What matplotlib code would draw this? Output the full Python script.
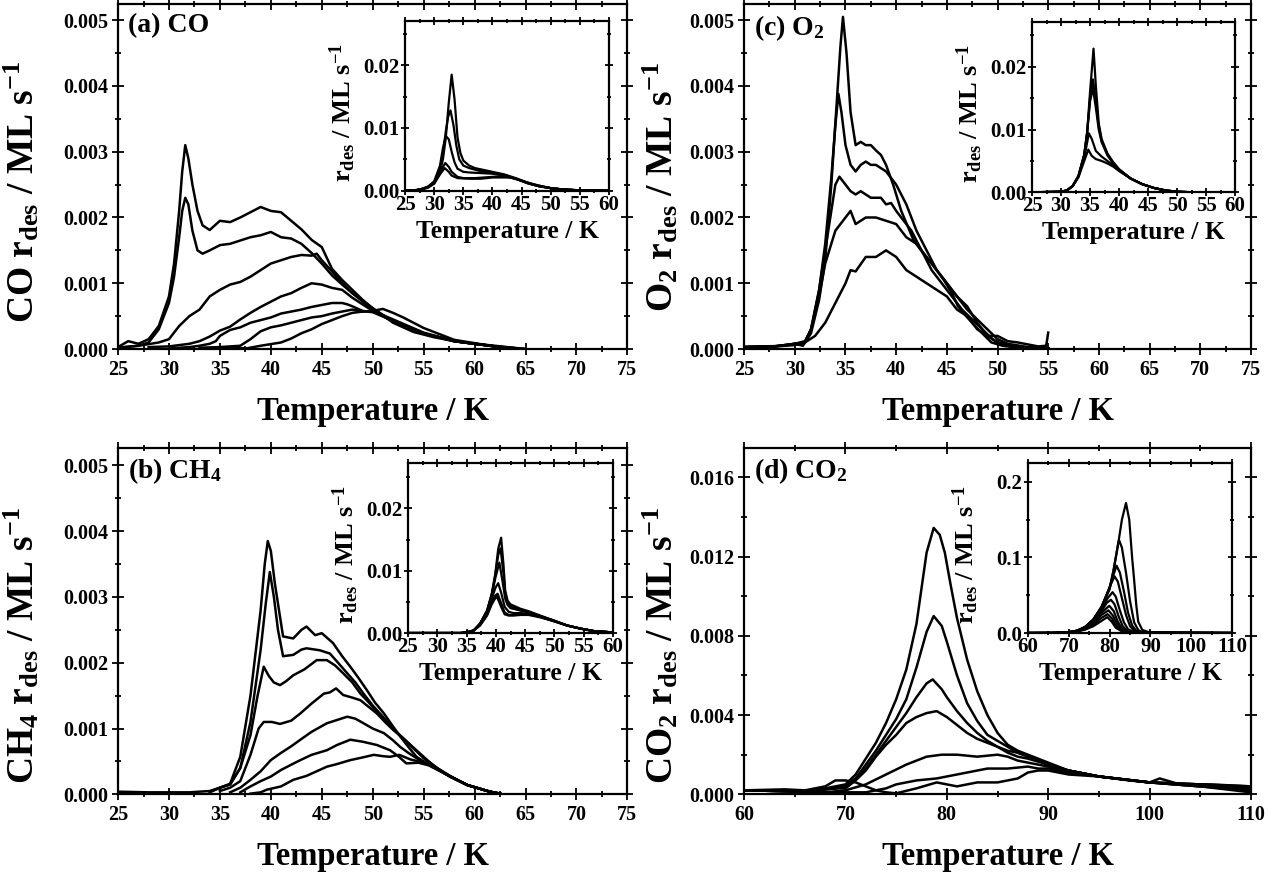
import matplotlib
matplotlib.use("Agg")
import matplotlib.pyplot as plt
from matplotlib.ticker import MultipleLocator, FormatStrFormatter

plt.rcParams['font.family'] = ['Liberation Serif', 'DejaVu Serif']
plt.rcParams['font.weight'] = 'bold'
plt.rcParams['mathtext.default'] = 'regular'
plt.rcParams['axes.linewidth'] = 1.6

# ---------------- (a) CO, main panel ----------------
co_temp = [
    [25, 26, 27, 28, 29, 30, 30.5, 31, 31.3, 31.6, 31.9, 32.3, 32.8, 33.3, 34, 35, 36, 37, 38, 39, 40, 41, 42, 43, 44, 45, 46, 47, 48, 49, 50, 52, 54, 56, 58, 60, 62, 65],
    [25, 27, 28, 29, 30, 30.5, 31, 31.3, 31.6, 31.9, 32.3, 32.8, 33.3, 34, 35, 36, 37, 38, 39, 40, 41, 42, 43, 44, 45, 46, 47, 48, 50, 52, 55, 58, 62, 65],
    [25, 27, 29, 30, 31, 32, 33, 34, 35, 36, 37, 38, 39, 40, 41, 42, 43, 44, 44.5, 45, 46, 47, 48, 50, 52, 55, 58, 62, 65],
    [28, 30, 32, 33, 34, 35, 36, 37, 38, 39, 40, 41, 42, 43, 44, 45, 46, 47, 48, 49, 50, 52, 55, 58, 62],
    [30, 32, 33, 34, 34.6, 35, 36, 37, 38, 39, 40, 41, 42, 43, 44, 45, 46, 47, 47.5, 48, 49, 50, 52, 55, 58, 62],
    [33, 35, 37, 38, 39, 40, 41, 42, 43, 44, 45, 46, 47, 48, 49, 50, 52, 55, 58, 62],
    [34, 36, 37.6, 39, 41, 42, 43, 44, 45, 46, 47, 48, 49, 50, 51, 52, 53, 55, 58, 62],
]
co_rate = [
    [0.00003, 0.00012, 0.00008, 0.00015, 0.00035, 0.0008, 0.0013, 0.0021, 0.0027, 0.0031, 0.0029, 0.0025, 0.0021, 0.00188, 0.00181, 0.00195, 0.00193, 0.002, 0.00208, 0.00216, 0.0021, 0.00208, 0.00195, 0.00182, 0.00166, 0.00155, 0.00122, 0.00105, 0.0009, 0.00075, 0.00062, 0.0004, 0.00026, 0.00018, 0.00012, 0.00008, 0.00005, 0.0],
    [0.00002, 0.00005, 0.0001, 0.0003, 0.0007, 0.0011, 0.0017, 0.0021, 0.0023, 0.0022, 0.0018, 0.0015, 0.00145, 0.0015, 0.00158, 0.0016, 0.00165, 0.0017, 0.00173, 0.00178, 0.0017, 0.00168, 0.0016, 0.00146, 0.0013, 0.00112, 0.00098, 0.00085, 0.00062, 0.00042, 0.00024, 0.00012, 0.00004, 0.0],
    [0.00002, 0.00005, 0.0001, 0.00015, 0.00035, 0.0005, 0.0006, 0.0008, 0.0009, 0.00098, 0.00102, 0.0011, 0.0012, 0.0013, 0.00135, 0.0014, 0.00143, 0.00142, 0.00145, 0.00135, 0.00118, 0.001, 0.00085, 0.0006, 0.00042, 0.00024, 0.00012, 0.00004, 0.0],
    [0.00003, 0.00004, 0.00008, 0.00012, 0.00019, 0.00028, 0.00034, 0.00045, 0.00055, 0.00064, 0.00072, 0.0008, 0.00085, 0.00093, 0.001, 0.00098, 0.00093, 0.0009, 0.00078, 0.00068, 0.00058, 0.00042, 0.00024, 0.00012, 0.00004],
    [0.00001, 0.00003, 0.00005, 0.00008, 0.00012, 0.0002, 0.00029, 0.00033, 0.0004, 0.00044, 0.00048, 0.00054, 0.00057, 0.0006, 0.00064, 0.00067, 0.0007, 0.0007, 0.00068, 0.00065, 0.00058, 0.00056, 0.00043, 0.00024, 0.00012, 0.00004],
    [0.00002, 0.00003, 0.00005, 0.00015, 0.00027, 0.00033, 0.00036, 0.0004, 0.00044, 0.00048, 0.0005, 0.00054, 0.00057, 0.0006, 0.00057, 0.00058, 0.00045, 0.00025, 0.00012, 0.00004],
    [0.00001, 0.00002, 0.00001, 0.00005, 0.0001, 0.00016, 0.00024, 0.0003, 0.00038, 0.00044, 0.0005, 0.00055, 0.00057, 0.00058, 0.00061, 0.00055, 0.00048, 0.00032, 0.00014, 0.00004],
]

# (a) inset
co_in_temp = [
    [25, 27, 28, 29, 30, 31, 31.5, 32, 32.5, 33, 33.5, 34, 34.5, 35, 36, 37, 38, 40, 42, 44, 46, 48, 50, 52, 55, 60],
    [25, 27, 28, 29, 30, 31, 31.5, 32, 32.4, 32.8, 33.3, 33.8, 34.3, 35, 36, 38, 40, 42, 44, 46, 48, 50, 52, 55, 60],
    [25, 27, 28, 29, 30, 31, 31.5, 32, 32.5, 33, 33.5, 34, 35, 36, 38, 40, 42, 44, 46, 48, 50, 52, 55, 60],
    [25, 27, 28, 29, 30, 31, 31.9, 32.5, 33, 34, 35, 37, 40, 42, 44, 46, 48, 50, 52, 55, 60],
    [25, 27, 28, 29, 30, 31, 31.8, 32.5, 33, 34, 36, 38, 40, 43, 45, 47, 50, 52, 55, 60],
]
co_in_rate = [
    [0, 0.0001, 0.0003, 0.0006, 0.0012, 0.003, 0.005, 0.0085, 0.014, 0.0185, 0.0145, 0.0085, 0.006, 0.0048, 0.004, 0.0036, 0.0034, 0.003, 0.0026, 0.002, 0.0013, 0.0008, 0.0004, 0.0002, 0.00005, 0.0],
    [0, 0.0001, 0.0003, 0.0006, 0.0013, 0.0035, 0.006, 0.0095, 0.0118, 0.0128, 0.0105, 0.0072, 0.005, 0.004, 0.0036, 0.0031, 0.0028, 0.0025, 0.0019, 0.0012, 0.0007, 0.0004, 0.0002, 0.00005, 0],
    [0, 0.0001, 0.0003, 0.0007, 0.0015, 0.004, 0.0068, 0.0087, 0.0082, 0.0062, 0.0045, 0.0035, 0.003, 0.0029, 0.0028, 0.0027, 0.0024, 0.0019, 0.0012, 0.0007, 0.0004, 0.0002, 0.00005, 0],
    [0, 0.0001, 0.0003, 0.0006, 0.0013, 0.003, 0.0044, 0.0038, 0.003, 0.0022, 0.002, 0.002, 0.0022, 0.0023, 0.0019, 0.0012, 0.0007, 0.0004, 0.0002, 0.00005, 0],
    [0, 0.0001, 0.0002, 0.0005, 0.0011, 0.0026, 0.0036, 0.003, 0.0024, 0.002, 0.0019, 0.0019, 0.0021, 0.0021, 0.0016, 0.001, 0.0004, 0.0002, 0.00005, 0],
]

# ---------------- (c) O2, main panel ----------------
o2_temp = [
    [25, 27, 29, 30, 30.8, 31.6, 32.4, 33, 33.6, 34.2, 34.5, 34.75, 35.1, 35.5, 36, 36.5, 37, 37.5, 38, 38.5, 39, 39.7, 40.5, 41.7, 42.7, 43.7, 44.7, 45.5, 46.1, 46.9, 48.1, 49.4, 50.5, 52, 55],
    [25, 28, 30, 31, 31.6, 32.4, 33, 33.6, 34, 34.3, 34.6, 35, 35.5, 36, 36.5, 37, 37.5, 38, 39, 40, 41, 42, 43, 44, 45, 46, 47, 48, 49, 50, 52, 55],
    [25, 28, 30, 31, 31.6, 32.4, 33, 33.6, 34, 34.4, 35, 35.5, 36, 36.5, 37, 37.5, 38, 38.5, 39, 39.5, 40, 40.5, 41.5, 42.5, 43.5, 44.5, 45.5, 46.5, 47.5, 48.5, 49.5, 50.5, 52, 55],
    [25, 28, 30, 31, 31.6, 32.4, 33, 34, 35, 35.5, 36, 37, 38, 39, 40, 41, 42, 43, 44, 45, 46, 47, 48, 49, 50, 51, 53, 55],
    [25, 28, 30, 31, 32, 33, 34, 35, 35.5, 36, 37, 38, 39, 40, 41, 42, 43, 44, 45, 46, 47, 48, 49, 50, 51, 52, 54, 54.8, 55],
]
o2_rate = [
    [0.00003, 0.00004, 0.00005, 0.00008, 0.00005, 0.00024, 0.00075, 0.00136, 0.0025, 0.0039, 0.0046, 0.00505, 0.0045, 0.0036, 0.0031, 0.00315, 0.0031, 0.0031, 0.00302, 0.00295, 0.0028, 0.0025, 0.0021, 0.00166, 0.00145, 0.00126, 0.00105, 0.00085, 0.00065, 0.0005, 0.0003, 0.0001, 0.00005, 0.00002, 0.00001],
    [0.00003, 0.00004, 0.00008, 0.00012, 0.0003, 0.0009, 0.0016, 0.0026, 0.0034, 0.00388, 0.0036, 0.0031, 0.0028, 0.0027, 0.0028, 0.00285, 0.0028, 0.0028, 0.0027, 0.0025, 0.0022, 0.0018, 0.0015, 0.0012, 0.001, 0.0008, 0.00065, 0.0004, 0.0002, 0.0001, 0.00003, 0.00001],
    [0.00003, 0.00004, 0.00008, 0.0001, 0.0003, 0.0009, 0.0015, 0.0021, 0.0025, 0.00262, 0.0025, 0.0024, 0.00235, 0.0024, 0.00235, 0.0023, 0.0023, 0.0023, 0.0022, 0.00222, 0.0021, 0.002, 0.0018, 0.0015, 0.0012, 0.001, 0.0008, 0.0006, 0.00045, 0.0003, 0.00015, 0.00007, 0.00003, 0.00001],
    [0.00003, 0.00004, 0.00008, 0.0001, 0.0003, 0.0008, 0.0013, 0.0018, 0.002, 0.0021, 0.0019, 0.002, 0.002, 0.00195, 0.0019, 0.0017, 0.0016, 0.0014, 0.0012, 0.001, 0.0008, 0.0006, 0.00045, 0.0003, 0.00015, 0.00008, 0.00003, 0.00001],
    [0.00003, 0.00004, 0.00006, 0.0001, 0.0002, 0.0004, 0.0007, 0.001, 0.0012, 0.00118, 0.0014, 0.0014, 0.0015, 0.0014, 0.0012, 0.0011, 0.001, 0.0009, 0.0008, 0.0006, 0.0005, 0.0003, 0.0002, 0.0002, 0.00012, 0.0001, 0.00004, 0.00005, 0.00025],
]

# (c) inset
o2_in_temp = [
    [25, 30, 31, 32, 33, 34, 34.5, 35, 35.6, 36, 36.5, 37, 38, 39, 40, 42, 44, 46, 48, 50, 52, 55, 60],
    [25, 30, 31, 32, 33, 34, 34.5, 35, 35.5, 36, 36.5, 37, 38, 39, 40, 42, 44, 46, 48, 50, 52, 55, 60],
    [25, 30, 31, 32, 33, 34, 34.5, 35, 35.5, 36, 36.5, 37, 38, 39, 40, 42, 44, 46, 48, 50, 52, 55, 60],
    [25, 30, 31, 32, 33, 34, 34.8, 35.3, 36, 37, 38, 39, 40, 42, 44, 46, 48, 50, 52, 55, 60],
    [25, 30, 31, 32, 33, 34, 34.7, 35.3, 36, 37, 38, 39, 40, 42, 44, 46, 48, 50, 52, 55, 60],
]
o2_in_rate = [
    [0, 0.0001, 0.0003, 0.001, 0.0026, 0.006, 0.0095, 0.016, 0.0229, 0.017, 0.011, 0.0085, 0.0062, 0.0048, 0.0037, 0.0022, 0.0013, 0.0007, 0.0003, 0.0001, 0.00003, 0, 0],
    [0, 0.0001, 0.0003, 0.001, 0.0026, 0.006, 0.0095, 0.015, 0.018, 0.0145, 0.0105, 0.0082, 0.006, 0.0047, 0.0036, 0.0022, 0.0013, 0.0007, 0.0003, 0.0001, 0.00003, 0, 0],
    [0, 0.0001, 0.0003, 0.001, 0.0026, 0.006, 0.0095, 0.0145, 0.0166, 0.0135, 0.01, 0.008, 0.0059, 0.0046, 0.0036, 0.0022, 0.0013, 0.0007, 0.0003, 0.0001, 0.00003, 0, 0],
    [0, 0.0001, 0.0003, 0.001, 0.0025, 0.0055, 0.0094, 0.0085, 0.0066, 0.0057, 0.005, 0.0043, 0.0035, 0.0022, 0.0013, 0.0007, 0.0003, 0.0001, 0.00003, 0, 0],
    [0, 0.0001, 0.0003, 0.001, 0.0024, 0.005, 0.0068, 0.0058, 0.0053, 0.005, 0.0046, 0.0041, 0.0034, 0.0022, 0.0013, 0.0007, 0.0003, 0.0001, 0.00003, 0, 0],
]

# ---------------- (b) CH4, main panel ----------------
ch4_temp = [
    [25, 28, 30, 32, 34, 35, 36, 37, 38, 39, 39.4, 39.7, 40.0, 40.4, 41.2, 42.2, 43, 43.5, 44.35, 45, 46.1, 47, 47.8, 48.6, 49.4, 50.2, 51.1, 52, 52.7, 53.5, 54.3, 55.2, 56, 57.6, 59.3, 61.5, 62.5],
    [34, 35, 36, 37, 38, 39, 39.5, 39.9, 40.3, 40.7, 41.2, 42.2, 43, 43.5, 44.8, 45.8, 46.6, 47.5, 48.3, 49.1, 50, 51, 52, 53, 54, 55, 56, 57.6, 59.3, 61.5, 62.5],
    [34, 35, 36, 37, 38, 38.7, 39.3, 39.8, 40.3, 40.9, 41.5, 42.2, 43.3, 44.5, 45.5, 46.3, 47.1, 48, 48.8, 49.6, 50.5, 51.5, 52.5, 53.5, 54.5, 55.5, 56.5, 57.6, 59.3, 61.5, 62.5],
    [35, 36, 37, 38, 38.8, 39.3, 40.1, 40.9, 42, 42.9, 44, 45.2, 45.8, 46.4, 47.1, 48, 48.8, 49.6, 50.4, 51.2, 52, 53, 54, 55, 56, 57.6, 59.3, 61.5, 62.5],
    [36, 37, 38, 39, 40, 41, 42, 42.9, 44, 45.5, 46.5, 47.5, 48.3, 49.1, 50, 51.1, 52, 52.7, 53.5, 54.5, 55.5, 56.5, 57.6, 59.3, 61.5, 62.5],
    [37, 38, 39, 40, 41, 42, 42.9, 44, 45.5, 46.5, 47.8, 49, 50.4, 51.7, 52.5, 53.3, 54.5, 55.5, 56.5, 57.6, 59.3, 61.5, 62.5],
    [38, 39, 39.6, 41, 42.2, 43.5, 44.5, 45.5, 46.5, 47.8, 49, 50.1, 51, 51.7, 52.6, 53.7, 54.5, 55.5, 56.5, 57.6, 59.3, 61.5, 62.5],
]
ch4_rate = [
    [0.00004, 0.00003, 0.00003, 0.00003, 0.00005, 0.0001, 0.00016, 0.00057, 0.0015, 0.0028, 0.0035, 0.00385, 0.0037, 0.0032, 0.0024, 0.00237, 0.0025, 0.00255, 0.00242, 0.00245, 0.0023, 0.0021, 0.00194, 0.00177, 0.00159, 0.0014, 0.00123, 0.00103, 0.00088, 0.00072, 0.00057, 0.00048, 0.00042, 0.00027, 0.00014, 0.00004, 0.00001],
    [0.00004, 0.0001, 0.00015, 0.0004, 0.0011, 0.0022, 0.0029, 0.00338, 0.003, 0.0025, 0.0021, 0.00212, 0.0022, 0.00222, 0.00219, 0.00214, 0.002, 0.00184, 0.0017, 0.00153, 0.00135, 0.00118, 0.001, 0.00085, 0.0007, 0.00055, 0.00042, 0.00027, 0.00014, 0.00004, 0.00001],
    [0.00003, 0.0001, 0.00015, 0.0004, 0.0009, 0.0015, 0.00194, 0.0018, 0.0017, 0.00166, 0.00172, 0.00181, 0.0019, 0.00204, 0.00204, 0.00196, 0.00184, 0.0017, 0.00153, 0.0014, 0.00124, 0.00108, 0.00092, 0.00078, 0.00064, 0.0005, 0.00038, 0.00027, 0.00014, 0.00004, 0.00001],
    [0.00005, 0.0001, 0.0002, 0.0006, 0.001, 0.0011, 0.0011, 0.00107, 0.00112, 0.00123, 0.00138, 0.00153, 0.00155, 0.00161, 0.00151, 0.00147, 0.00143, 0.00133, 0.00123, 0.0011, 0.00098, 0.00085, 0.0007, 0.00056, 0.00043, 0.00028, 0.00014, 0.00004, 0.00001],
    [0.00003, 0.0001, 0.00022, 0.00035, 0.00052, 0.00063, 0.00073, 0.00083, 0.00095, 0.00108, 0.00113, 0.00118, 0.00115, 0.00108, 0.001, 0.00093, 0.00082, 0.00072, 0.00063, 0.00053, 0.00045, 0.00037, 0.00027, 0.00014, 0.00004, 0.00001],
    [0.00003, 0.00012, 0.0002, 0.00027, 0.00037, 0.00045, 0.00052, 0.0006, 0.00067, 0.00075, 0.00083, 0.0008, 0.00075, 0.00067, 0.00058, 0.00047, 0.00048, 0.00044, 0.00036, 0.00027, 0.00014, 0.00004, 0.00001],
    [0.00001, 0.00003, 0.00007, 0.00012, 0.00022, 0.00028, 0.00035, 0.00042, 0.00046, 0.00052, 0.00056, 0.0006, 0.00058, 0.00057, 0.0006, 0.00053, 0.0005, 0.00045, 0.00037, 0.00027, 0.00014, 0.00004, 0.00001],
]

# (b) inset
ch4_in_temp = [
    [25, 34, 35, 36.2, 37.3, 38.5, 39.3, 39.9, 40.4, 40.9, 41.3, 41.6, 42, 42.5, 44.2, 45.6, 47.6, 49.9, 52.2, 54.5, 56.8, 60],
    [25, 34, 35, 36.2, 37.3, 38.5, 39.3, 39.9, 40.4, 40.8, 41.3, 41.6, 42, 42.5, 44.2, 45.6, 47.6, 49.9, 52.2, 54.5, 56.8, 60],
    [25, 34, 35, 36.2, 37.3, 38.5, 39.3, 39.9, 40.6, 41.1, 41.6, 42, 42.5, 44.2, 45.6, 47.6, 49.9, 52.2, 54.5, 56.8, 60],
    [25, 34, 35, 36.2, 37.3, 38.5, 39.3, 39.9, 40.4, 40.9, 41.5, 42.2, 43, 44.2, 45.6, 47.6, 49.9, 52.2, 54.5, 56.8, 60],
    [25, 34, 35, 36.2, 37.3, 38.5, 39.3, 39.9, 40.3, 40.9, 41.5, 42.2, 43, 44.2, 45.6, 47.6, 49.9, 52.2, 54.5, 56.8, 60],
    [25, 34, 35, 36.2, 37.3, 38.5, 39.3, 39.9, 40.2, 40.9, 41.5, 42.2, 43, 44.2, 45.6, 47.6, 49.9, 52.2, 54.5, 56.8, 60],
]
ch4_in_rate = [
    [0, 0, 0.0001, 0.0004, 0.0015, 0.0036, 0.0063, 0.0095, 0.0135, 0.0153, 0.011, 0.0068, 0.0052, 0.0046, 0.0039, 0.0035, 0.0028, 0.002, 0.0012, 0.0007, 0.0003, 0.0001],
    [0, 0, 0.0001, 0.0004, 0.0015, 0.0036, 0.0062, 0.0093, 0.0125, 0.0136, 0.0095, 0.0062, 0.0049, 0.0043, 0.0037, 0.0034, 0.0027, 0.002, 0.0012, 0.0007, 0.0003, 0.0001],
    [0, 0, 0.0001, 0.0004, 0.0015, 0.0035, 0.006, 0.0088, 0.0113, 0.0085, 0.0055, 0.0045, 0.004, 0.0036, 0.0033, 0.0027, 0.002, 0.0012, 0.0007, 0.0003, 0.0001],
    [0, 0, 0.0001, 0.0004, 0.0014, 0.0033, 0.0055, 0.0072, 0.008, 0.0065, 0.0042, 0.0034, 0.0032, 0.0032, 0.0031, 0.0026, 0.0019, 0.0012, 0.0007, 0.0003, 0.0001],
    [0, 0, 0.0001, 0.0004, 0.0013, 0.003, 0.005, 0.006, 0.0063, 0.0048, 0.0033, 0.0029, 0.0029, 0.003, 0.003, 0.0026, 0.0019, 0.0012, 0.0007, 0.0003, 0.0001],
    [0, 0, 0.0001, 0.0004, 0.0012, 0.0028, 0.0046, 0.0056, 0.0058, 0.0042, 0.003, 0.0028, 0.0028, 0.0029, 0.0029, 0.0025, 0.0019, 0.0012, 0.0007, 0.0003, 0.0001],
]

# ---------------- (d) CO2, main panel ----------------
co2_temp = [
    [60, 63, 65, 67, 68, 69, 70, 71, 72, 73, 74, 75, 76, 77, 77.5, 78, 78.7, 79.3, 79.8, 80.4, 81, 82, 83, 84, 85, 86, 87, 88, 90, 92, 95, 98, 100, 101, 103, 106, 110],
    [60, 65, 67, 69, 70, 71, 72, 73, 74, 75, 76, 77, 78, 78.7, 79.5, 80, 81, 82, 83, 84, 85, 86, 87, 88, 90, 92, 95, 100, 105, 110],
    [60, 65, 67, 69, 70, 71, 72, 73, 74, 75, 76, 77, 78, 78.6, 79.5, 80, 81, 82, 83, 84, 85, 86, 87, 88, 90, 92, 95, 100, 105, 110],
    [60, 65, 67, 69, 70, 71, 72, 73, 74, 75, 76, 77, 78, 79, 80, 81, 82, 83, 84, 85, 86, 87, 88, 90, 92, 95, 100, 105, 110],
    [60, 65, 68, 70, 72, 74, 76, 78, 79.5, 81, 83, 85, 86, 87, 88, 89, 90, 92, 95, 100, 105, 110],
    [60, 65, 68, 70, 72, 74, 75, 77, 79, 80, 82, 84, 86, 88, 89, 90, 92, 95, 100, 105, 110],
    [60, 64, 66, 68, 69, 70, 71, 72, 73, 74, 75, 77, 79, 80, 81, 83, 85, 87, 88, 89, 90, 92, 95, 100, 105, 110],
]
co2_rate = [
    [0.0002, 0.0002, 0.00015, 0.0002, 0.0003, 0.0004, 0.0005, 0.001, 0.0018, 0.0026, 0.0036, 0.0048, 0.0063, 0.0086, 0.0104, 0.0122, 0.01345, 0.0131, 0.0122, 0.0105, 0.0089, 0.0068, 0.0052, 0.004, 0.0031, 0.0025, 0.0022, 0.002, 0.0016, 0.0012, 0.0009, 0.0007, 0.0006, 0.0008, 0.0005, 0.0005, 0.0004],
    [0.0002, 0.00015, 0.0002, 0.0003, 0.0004, 0.0008, 0.0015, 0.0022, 0.003, 0.0038, 0.0048, 0.0064, 0.0082, 0.009, 0.0085, 0.0077, 0.006, 0.0046, 0.0037, 0.003, 0.0027, 0.0024, 0.0021, 0.0019, 0.0015, 0.0012, 0.0009, 0.0006, 0.0005, 0.0004],
    [0.0002, 0.00015, 0.0002, 0.0003, 0.0004, 0.0008, 0.0013, 0.002, 0.0027, 0.0034, 0.0041, 0.0049, 0.0056, 0.0058, 0.0053, 0.0049, 0.0042, 0.0036, 0.0031, 0.0027, 0.0024, 0.0021, 0.0019, 0.0018, 0.0015, 0.0012, 0.0009, 0.0006, 0.0005, 0.0003],
    [0.0002, 0.00015, 0.0002, 0.0003, 0.0003, 0.0007, 0.0012, 0.0019, 0.0025, 0.003, 0.0036, 0.0039, 0.0041, 0.0042, 0.0039, 0.0035, 0.0031, 0.0028, 0.0026, 0.0024, 0.0022, 0.0021, 0.0019, 0.0015, 0.0012, 0.0009, 0.0006, 0.0004, 0.0003],
    [0.0002, 0.00015, 0.0001, 0.0002, 0.0005, 0.001, 0.0015, 0.0019, 0.002, 0.002, 0.0019, 0.002, 0.0019, 0.0017, 0.0016, 0.0015, 0.0014, 0.0012, 0.0009, 0.0006, 0.0005, 0.0002],
    [0.0002, 0.00015, 0.0001, 0.0001, 0.0001, 0.0003, 0.0005, 0.0007, 0.0008, 0.0009, 0.0011, 0.0013, 0.0013, 0.0014, 0.0013, 0.0013, 0.0011, 0.0009, 0.0006, 0.0004, 0.0001],
    [0.0002, 0.00025, 0.0002, 0.0004, 0.0007, 0.0007, 0.0006, 0.0004, 0.0002, 0.0001, 0.00005, 0.0003, 0.0006, 0.0005, 0.0004, 0.0006, 0.0006, 0.0008, 0.0011, 0.0012, 0.0012, 0.001, 0.0009, 0.0006, 0.0004, 0.0002],
]

# (d) inset
co2_in_temp = [
    [60, 66, 68, 70, 72, 74, 76, 78, 80, 81, 82, 83, 84, 84.8, 85.5, 86, 86.5, 87, 88, 90, 95, 110],
    [60, 66, 68, 70, 72, 74, 76, 78, 80, 81, 82, 82.3, 83, 84, 85, 86, 87, 88, 90, 110],
    [60, 66, 68, 70, 72, 74, 76, 78, 80, 81, 81.7, 82.5, 83.5, 84.5, 85.5, 86.5, 88, 110],
    [60, 66, 68, 70, 72, 74, 76, 78, 80, 81.2, 82, 83, 84, 85, 86, 88, 110],
    [60, 66, 68, 70, 72, 74, 76, 78, 79.5, 80.7, 81.5, 82.5, 83.5, 84.5, 86, 110],
    [60, 66, 68, 70, 72, 74, 76, 78, 79.3, 80.3, 81.2, 82.2, 83.2, 84.5, 86, 110],
    [60, 66, 68, 70, 72, 74, 76, 78, 79.9, 81, 82, 83, 84.5, 86, 110],
    [60, 66, 68, 70, 72, 74, 76, 78, 79.7, 80.8, 81.8, 83, 84.5, 86, 110],
    [60, 66, 68, 70, 72, 74, 76, 78, 79.5, 80.6, 81.6, 83, 84.5, 86, 110],
    [60, 66, 68, 70, 72, 74, 76, 78, 79.4, 80.5, 81.5, 83, 84.5, 86, 110],
]
co2_in_rate = [
    [0, 0.0001, 0.0004, 0.001, 0.003, 0.008, 0.018, 0.035, 0.06, 0.084, 0.115, 0.15, 0.172, 0.15, 0.1, 0.07, 0.038, 0.015, 0.004, 0.0005, 0, 0],
    [0, 0.0001, 0.0004, 0.001, 0.003, 0.008, 0.018, 0.034, 0.058, 0.085, 0.116, 0.123, 0.113, 0.08, 0.042, 0.014, 0.004, 0.001, 0, 0],
    [0, 0.0001, 0.0004, 0.001, 0.003, 0.008, 0.018, 0.034, 0.06, 0.078, 0.089, 0.08, 0.055, 0.027, 0.01, 0.003, 0.0005, 0],
    [0, 0.0001, 0.0004, 0.001, 0.003, 0.008, 0.017, 0.033, 0.061, 0.075, 0.068, 0.046, 0.024, 0.009, 0.003, 0.0005, 0],
    [0, 0.0001, 0.0004, 0.001, 0.003, 0.0075, 0.016, 0.031, 0.046, 0.054, 0.048, 0.03, 0.014, 0.005, 0.001, 0],
    [0, 0.0001, 0.0004, 0.001, 0.003, 0.007, 0.015, 0.029, 0.04, 0.044, 0.038, 0.022, 0.009, 0.002, 0.0005, 0],
    [0, 0.0001, 0.0003, 0.001, 0.0028, 0.0065, 0.014, 0.027, 0.036, 0.029, 0.015, 0.006, 0.001, 0.0002, 0],
    [0, 0.0001, 0.0003, 0.0009, 0.0026, 0.006, 0.0125, 0.024, 0.03, 0.023, 0.012, 0.004, 0.001, 0.0002, 0],
    [0, 0.0001, 0.0003, 0.0008, 0.0023, 0.0053, 0.011, 0.02, 0.025, 0.019, 0.009, 0.003, 0.0008, 0.0002, 0],
    [0, 0.0001, 0.0003, 0.0007, 0.002, 0.0045, 0.009, 0.016, 0.021, 0.015, 0.007, 0.002, 0.0006, 0.0002, 0],
]


def style(ax, xlim, xmaj, ylim, ymaj, yfmt, tick_fs, xlab_fs, ylab_fs, ylab, inset=False):
    ax.set_xlim(*xlim)
    ax.set_ylim(*ylim)
    ax.xaxis.set_major_locator(MultipleLocator(xmaj))
    ax.xaxis.set_minor_locator(MultipleLocator(xmaj / 2))
    ax.yaxis.set_major_locator(MultipleLocator(ymaj))
    ax.yaxis.set_minor_locator(MultipleLocator(ymaj / 2))
    ax.yaxis.set_major_formatter(FormatStrFormatter(yfmt))
    ax.tick_params(which='both', top=True, right=True, direction='inout',
                   width=1.3, labelsize=tick_fs)
    ax.tick_params(which='major', length=6 if inset else 8)
    ax.tick_params(which='minor', length=3 if inset else 5)
    ax.tick_params(axis='x', pad=0 if inset else 4)
    ax.tick_params(axis='y', pad=1 if inset else 3)
    for lab in ax.get_xticklabels() + ax.get_yticklabels():
        lab.set_fontweight('bold')
    ax.set_xlabel('Temperature / K', fontsize=xlab_fs, fontweight='bold')
    ax.set_ylabel(ylab, fontsize=ylab_fs, fontweight='bold')


def draw(ax, temps, rates, lw):
    for t, r in zip(temps, rates):
        ax.plot(t, r, color='black', lw=lw)


fig = plt.figure(figsize=(12.83, 8.77), dpi=100)

ax_a = fig.add_axes([0.092, 0.602, 0.397, 0.393])
ax_c = fig.add_axes([0.580, 0.602, 0.395, 0.393])
ax_b = fig.add_axes([0.092, 0.0943, 0.397, 0.3952])
ax_d = fig.add_axes([0.580, 0.0943, 0.395, 0.3952])

in_a = fig.add_axes([0.3157, 0.7826, 0.159, 0.1938])
in_c = fig.add_axes([0.8044, 0.7807, 0.1582, 0.1946])
in_b = fig.add_axes([0.318, 0.2782, 0.1598, 0.1939])
in_d = fig.add_axes([0.8013, 0.2782, 0.159, 0.1939])

main_lab = 'r$_{des}$ / ML s$^{-1}$'

draw(ax_a, co_temp, co_rate, 1.8)
style(ax_a, (25, 75), 5, (0, 0.00524), 0.001, '%.3f', 14.5, 23.5, 27, 'CO ' + main_lab)
draw(ax_c, o2_temp, o2_rate, 1.8)
style(ax_c, (25, 75), 5, (0, 0.00524), 0.001, '%.3f', 14.5, 23.5, 27, 'O$_2$ ' + main_lab)
draw(ax_b, ch4_temp, ch4_rate, 1.8)
style(ax_b, (25, 75), 5, (0, 0.00527), 0.001, '%.3f', 14.5, 23.5, 27, 'CH$_4$ ' + main_lab)
draw(ax_d, co2_temp, co2_rate, 1.8)
style(ax_d, (60, 110), 10, (0, 0.0175), 0.004, '%.3f', 14.5, 23.5, 27, 'CO$_2$ ' + main_lab)

draw(in_a, co_in_temp, co_in_rate, 1.6)
style(in_a, (25, 60), 5, (0, 0.0271), 0.01, '%.2f', 15, 18.5, 19, main_lab, inset=True)
draw(in_c, o2_in_temp, o2_in_rate, 1.6)
style(in_c, (25, 60), 5, (0, 0.0272), 0.01, '%.2f', 15, 18.5, 19, main_lab, inset=True)
draw(in_b, ch4_in_temp, ch4_in_rate, 1.6)
style(in_b, (25, 60), 5, (0, 0.0273), 0.01, '%.2f', 15, 18.5, 19, main_lab, inset=True)
draw(in_d, co2_in_temp, co2_in_rate, 1.6)
style(in_d, (60, 110), 10, (0, 0.225), 0.1, '%.1f', 15, 18.5, 19, main_lab, inset=True)

# y-label placement per panel (left column sits further out than right column)
label_pos = [(ax_a, -0.15, 0.455), (ax_b, -0.15, 0.43),
             (ax_c, -0.125, 0.47), (ax_d, -0.125, 0.43)]
for ax, lx, ly in label_pos:
    ax.yaxis.set_label_coords(lx, ly)
    ax.xaxis.set_label_coords(0.5, -0.135)
for ax in (in_a, in_c, in_b, in_d):
    ax.yaxis.set_label_coords(-0.23, 0.46)
    ax.xaxis.set_label_coords(0.5, -0.17)

panel_txt = [(ax_a, '(a) CO'), (ax_c, '(c) O$_2$'), (ax_b, '(b) CH$_4$'), (ax_d, '(d) CO$_2$')]
for ax, txt in panel_txt:
    ax.text(0.02, 0.975, txt, transform=ax.transAxes, fontsize=20,
            fontweight='bold', va='top', ha='left')

fig.savefig('out.png', dpi=100)
